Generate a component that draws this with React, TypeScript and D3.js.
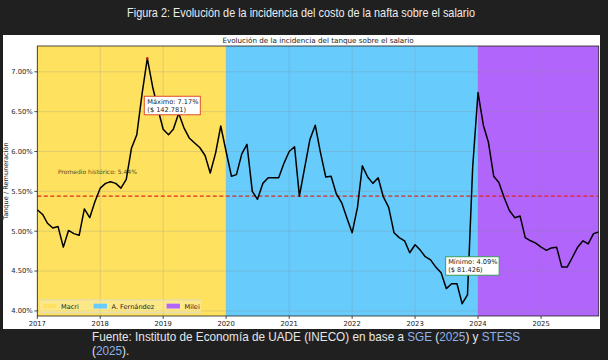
import React from "react";
import * as d3 from "d3";

const W = 608;
const H = 360;

// monthly values, % of salary needed to fill the tank
const y2017 = [5.27, 5.21, 5.1, 5.04, 5.06, 4.8, 5.01, 4.97, 4.95, 5.28, 5.17, 5.37];
const y2018 = [5.54, 5.6, 5.62, 5.6, 5.54, 5.65, 6.04, 6.21, 6.73, 7.17, 6.81, 6.54];
const y2019 = [6.28, 6.21, 6.28, 6.48, 6.3, 6.17, 6.11, 6.05, 5.95, 5.73, 5.98, 6.32];
const y2020 = [6.0, 5.69, 5.71, 5.97, 6.09, 5.5, 5.4, 5.6, 5.67, 5.67, 5.67, 5.85];
const y2021 = [6.0, 6.06, 5.44, 5.8, 6.15, 6.33, 5.99, 5.68, 5.69, 5.47, 5.36, 5.17];
const y2022 = [4.98, 5.3, 5.82, 5.68, 5.6, 5.67, 5.43, 5.3, 4.98, 4.92, 4.88, 4.73];
const y2023 = [4.83, 4.76, 4.68, 4.64, 4.55, 4.48, 4.28, 4.34, 4.34, 4.09, 4.2, 5.8];
const y2024 = [6.74, 6.33, 6.12, 5.69, 5.61, 5.42, 5.26, 5.17, 5.19, 4.92, 4.88, 4.85];
const y2025 = [4.8, 4.76, 4.79, 4.8, 4.55, 4.55, 4.67, 4.8, 4.88, 4.84, 4.97, 4.99];

const values = [...y2017, ...y2018, ...y2019, ...y2020, ...y2021, ...y2022, ...y2023, ...y2024, ...y2025];
const dates = values.map((_, i) => new Date(2017, i, 1));

const yearTicks = [2017, 2018, 2019, 2020, 2021, 2022, 2023, 2024, 2025];
const yTicks = [4.0, 4.5, 5.0, 5.5, 6.0, 6.5, 7.0];

const periodNames = ["Macri", "A. Fernández", "Milei"];
const periodStart = [new Date(2017, 0, 1), new Date(2020, 0, 1), new Date(2024, 0, 1)];
const periodEnd = [new Date(2020, 0, 1), new Date(2024, 0, 1), new Date(2025, 11, 1)];
const periodColors = ["#fde15f", "#67cbfb", "#b165fb"];

const average = 5.44;
const maxLabel = ["Máximo: 7.17%", "($ 142.781)"];
const minLabel = ["Mínimo: 4.09%", "($ 81.426)"];

const plotFont = "DejaVu Sans, sans-serif";
const pageFont = "Liberation Sans, Arial, sans-serif";

export default function App() {
  const left = 37.3, right = 598.7, top = 46, bottom = 316;

  const x = d3.scaleTime().domain([dates[0], dates[dates.length - 1]]).range([left, right]);
  const y = d3.scaleLinear().domain([3.936, 7.324]).range([bottom, top]);

  const line = d3
    .line<number>()
    .x((_, i) => x(dates[i]))
    .y((d) => y(d));

  const iMax = d3.maxIndex(values);
  const iMin = d3.minIndex(values);
  const mx = x(dates[iMax]), my = y(values[iMax]);
  const nx = x(dates[iMin]), ny = y(values[iMin]);

  const fmt = d3.format(".2f");
  const link = "#8fb0e8";

  return (
    <svg width={W} height={H} style={{ position: "fixed", left: 0, top: 0 }}>
      <rect width={W} height={H} fill="#202020" />
      <text transform="translate(301,17) scale(0.87,1)" textAnchor="middle" fontFamily={pageFont} fontSize={12.5} fill="#ececec">
        Figura 2: Evolución de la incidencia del costo de la nafta sobre el salario
      </text>

      {/* figure panel */}
      <rect x={3} y={35} width={597} height={294} fill="#ffffff" />
      <text x={(left + right) / 2} y={43} textAnchor="middle" fontFamily={plotFont} fontSize={7.2} fill="#222">
        Evolución de la incidencia del tanque sobre el salario
      </text>

      {/* government periods */}
      {periodNames.map((p, i) => (
        <rect
          key={p}
          x={x(periodStart[i])}
          y={top}
          width={x(periodEnd[i]) - x(periodStart[i])}
          height={bottom - top}
          fill={periodColors[i]}
        />
      ))}

      {/* grid */}
      {yearTicks.map((yr) => (
        <line key={yr} x1={x(new Date(yr, 0, 1))} x2={x(new Date(yr, 0, 1))} y1={top} y2={bottom}
          stroke="#8a8a8a" strokeOpacity={0.3} strokeWidth={0.8} />
      ))}
      {yTicks.map((t) => (
        <line key={t} x1={left} x2={right} y1={y(t)} y2={y(t)} stroke="#8a8a8a" strokeOpacity={0.3} strokeWidth={0.8} />
      ))}

      {/* average */}
      <line x1={left} x2={right} y1={y(average)} y2={y(average)} stroke="#dd2a1e" strokeWidth={1.2} strokeDasharray="4,2.5" />
      <text x={58} y={174} fontFamily={plotFont} fontSize={6} fill="#5a4a1e">
        Promedio histórico: {fmt(average)}%
      </text>

      {/* series */}
      <path d={line(values) || ""} fill="none" stroke="#000" strokeWidth={1.5} strokeLinejoin="round" />
      <circle cx={mx} cy={my} r={1.2} fill="#e0201a" />

      {/* annotations */}
      <g transform={`translate(${mx - 3},${my + 38})`}>
        <rect width={56} height={18.5} fill="#fff" stroke="#e0502a" strokeWidth={1} />
        {maxLabel.map((s, i) => (
          <text key={s} x={3} y={7.5 + i * 8} fontFamily={plotFont} fontSize={6.6} fill="#222">{s}</text>
        ))}
      </g>
      <g transform={`translate(${nx - 16.5},${ny - 47})`}>
        <rect width={53.5} height={18.5} fill="#fff" stroke="#3a9a5a" strokeWidth={1} />
        {minLabel.map((s, i) => (
          <text key={s} x={2.5} y={7.5 + i * 8} fontFamily={plotFont} fontSize={6.6} fill="#222">{s}</text>
        ))}
      </g>

      {/* legend */}
      <g transform="translate(39.5,300)">
        <rect width={162} height={12.7} rx={1.5} fill="#fff" fillOpacity={0.25} stroke="#d8d8d8" strokeWidth={0.8} />
        {periodNames.map((p, i) => {
          const off = [3.5, 54, 127][i];
          return (
            <g key={p} transform={`translate(${off},0)`}>
              <rect x={0} y={3.6} width={13.5} height={5} fill={periodColors[i]} stroke="#fff" strokeOpacity={0.4} strokeWidth={0.3} />
              <text x={18} y={9} fontFamily={plotFont} fontSize={6.6} fill="#222">{p}</text>
            </g>
          );
        })}
      </g>

      {/* axes */}
      <rect x={left} y={top} width={right - left} height={bottom - top} fill="none" stroke="#222" strokeWidth={0.8} />
      {yTicks.map((t) => (
        <g key={t}>
          <line x1={left - 3} x2={left} y1={y(t)} y2={y(t)} stroke="#222" strokeWidth={0.8} />
          <text x={left - 4.5} y={y(t) + 2.4} textAnchor="end" fontFamily={plotFont} fontSize={6.8} fill="#222">
            {fmt(t)}%
          </text>
        </g>
      ))}
      {yearTicks.map((yr) => {
        const xx = x(new Date(yr, 0, 1));
        return (
          <g key={yr}>
            <line x1={xx} x2={xx} y1={bottom} y2={bottom + 3} stroke="#222" strokeWidth={0.8} />
            <text x={xx} y={bottom + 10} textAnchor="middle" fontFamily={plotFont} fontSize={6.8} fill="#222">
              {yr}
            </text>
          </g>
        );
      })}
      <text transform={`translate(8,${(top + bottom) / 2}) rotate(-90)`} textAnchor="middle" fontFamily={plotFont}
        fontSize={6.6} fill="#222">
        Tanque / Remuneración
      </text>

      {/* source */}
      <g transform="translate(92,0) scale(0.905,1)">
        <text x={0} y={341} fontFamily={pageFont} fontSize={13} fill="#e6e6e6">
          Fuente: Instituto de Economía de UADE (INECO) en base a <tspan fill={link}>SGE</tspan> (
          <tspan fill={link}>2025</tspan>) y <tspan fill={link}>STESS</tspan>
        </text>
        <text x={0} y={355} fontFamily={pageFont} fontSize={13} fill="#e6e6e6">
          (<tspan fill={link}>2025</tspan>).
        </text>
      </g>
    </svg>
  );
}
